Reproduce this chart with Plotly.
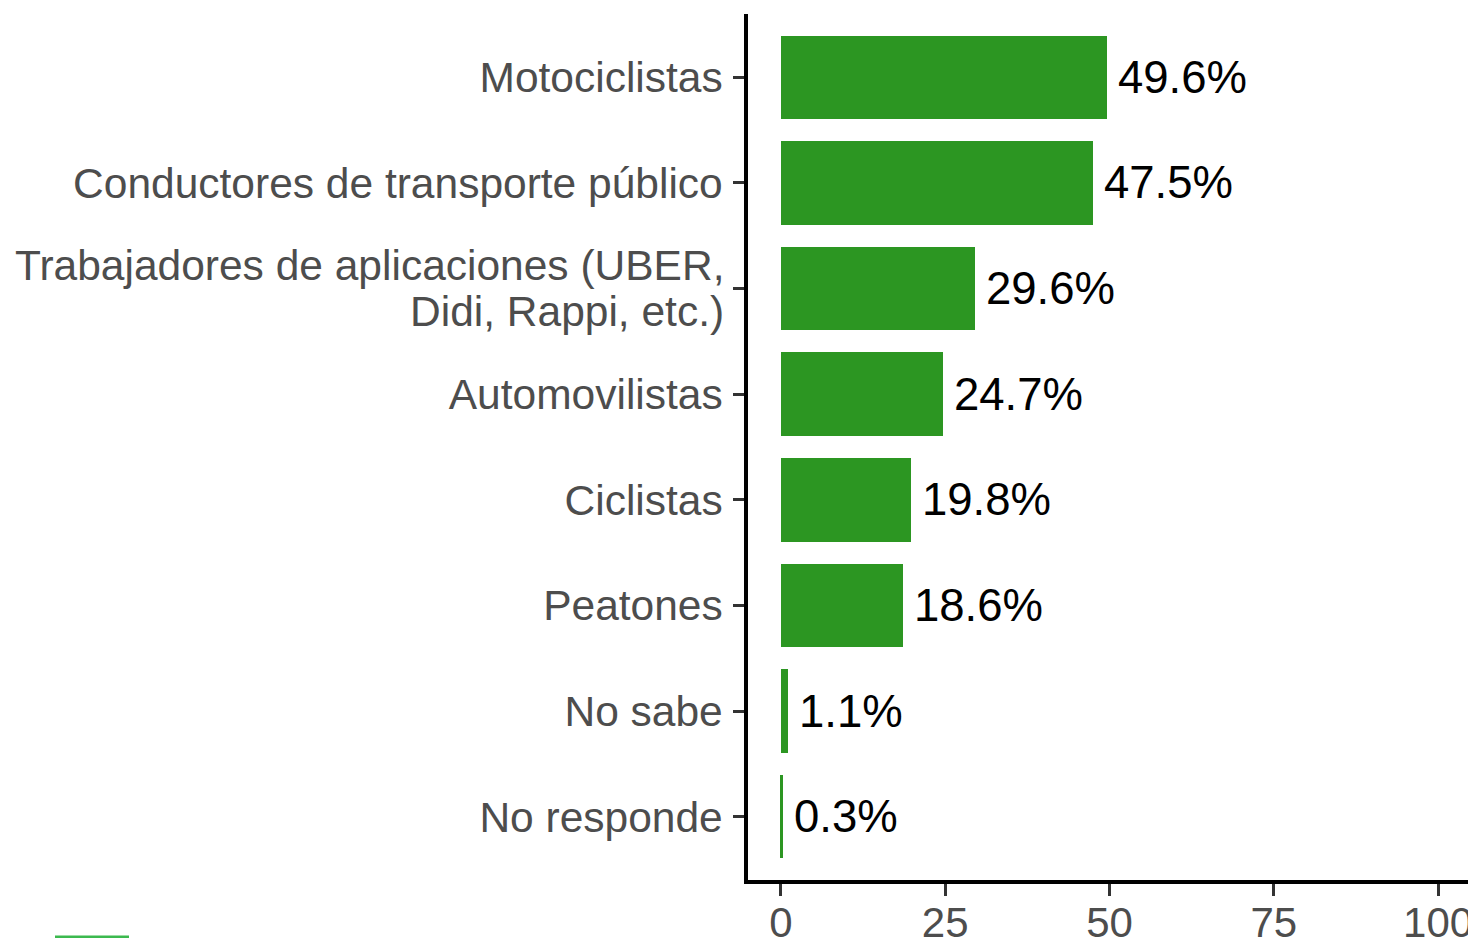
import plotly.graph_objects as go

categories = [
    "Motociclistas",
    "Conductores de transporte público",
    "Trabajadores de aplicaciones (UBER, Didi, Rappi, etc.)",
    "Automovilistas",
    "Ciclistas",
    "Peatones",
    "No sabe",
    "No responde",
]
tick_labels = [
    "Motociclistas",
    "Conductores de transporte público",
    "",
    "Automovilistas",
    "Ciclistas",
    "Peatones",
    "No sabe",
    "No responde",
]
wrapped_label_lines = ["Trabajadores de aplicaciones (UBER,", "Didi, Rappi, etc.)"]
wrapped_category = categories[2]
values = [49.6, 47.5, 29.6, 24.7, 19.8, 18.6, 1.1, 0.3]
x_ticks = [0, 25, 50, 75, 100]

bar_color = "#2C9622"
label_font = dict(family="Liberation Sans, Arial, sans-serif", size=42.5, color="#4d4d4d")

fig = go.Figure()
fig.add_trace(go.Bar(
    x=values, y=categories, orientation="h",
    marker=dict(color=bar_color, line=dict(width=0)),
    width=0.79, showlegend=False, hoverinfo="skip",
))

for v, c in zip(values, categories):
    fig.add_annotation(
        x=v, y=c, text=f"{v:.1f}%", showarrow=False,
        xanchor="left", yanchor="middle", xshift=9,
        font=dict(family="Liberation Sans, Arial, sans-serif", size=45.5, color="black"),
    )

# two-line category label with tighter line spacing
for line, shift in zip(wrapped_label_lines, [23, -23]):
    fig.add_annotation(
        xref="paper", x=0, y=wrapped_category, yref="y",
        text=line, showarrow=False, xanchor="right", yanchor="middle",
        xshift=-22, yshift=shift, font=label_font,
    )

fig.update_layout(
    width=1476, height=938,
    margin=dict(l=740, r=13, t=6, b=66, autoexpand=False),
    paper_bgcolor="white", plot_bgcolor="white",
    font=dict(family="Liberation Sans, Arial, sans-serif"),
    bargap=0,
)
fig.update_xaxes(
    range=[-5, 105], tickvals=x_ticks, ticktext=[str(t) for t in x_ticks],
    showgrid=False, zeroline=False, automargin=False,
    showline=True, linecolor="black", linewidth=3.5,
    ticks="outside", ticklen=12, tickwidth=3, tickcolor="#333333",
    tickfont=dict(size=42, color="#4d4d4d"),
    ticklabelstandoff=-9,
)
fig.update_yaxes(
    categoryorder="array", categoryarray=categories[::-1],
    tickvals=categories, ticktext=tick_labels,
    range=[-0.6, len(categories) - 0.4],
    showgrid=False, zeroline=False, automargin=False,
    showline=True, linecolor="black", linewidth=3.5,
    ticks="outside", ticklen=11, tickwidth=3, tickcolor="#333333",
    tickfont=label_font,
    ticklabelstandoff=2,
)
fig.add_shape(
    type="line", xref="paper", yref="paper",
    x0=-(740 - 47) / 723, x1=-(740 - 121) / 723,
    y0=-(929 - 872) / 866, y1=-(929 - 872) / 866,
    line=dict(color="#3cb94f", width=3),
)

fig.write_html("out.html")
